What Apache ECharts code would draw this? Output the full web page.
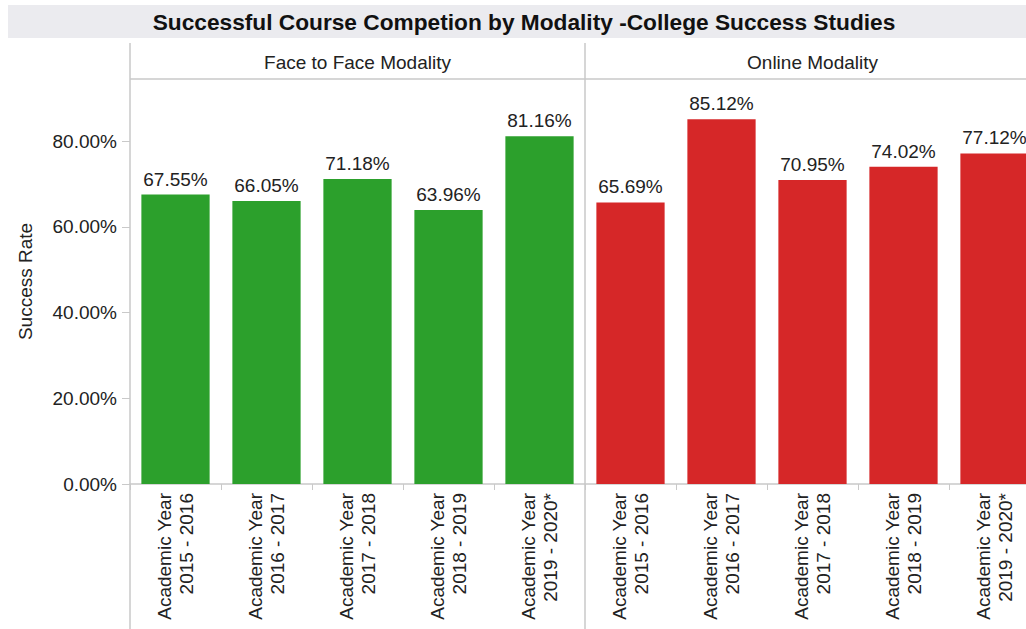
<!DOCTYPE html>
<html>
<head>
<meta charset="utf-8">
<script src="https://cdn.jsdelivr.net/npm/echarts@6/dist/echarts.min.js"></script>
<style>
html,body{margin:0;padding:0;background:#fff;overflow:hidden;width:1026px;height:629px;}
#chart{width:1041px;height:629px;}
</style>
</head>
<body>
<div id="chart"></div>
<script>
var categories = [
  "Academic Year\n2015 - 2016",
  "Academic Year\n2016 - 2017",
  "Academic Year\n2017 - 2018",
  "Academic Year\n2018 - 2019",
  "Academic Year\n2019 - 2020*"
];
var faceToFace = [67.55, 66.05, 71.18, 63.96, 81.16];
var online = [65.69, 85.12, 70.95, 74.02, 77.12];
var yTicks = [0, 20, 40, 60, 80];
var panelNames = ["Face to Face Modality", "Online Modality"];
var chartTitle = "Successful Course Competion by Modality -College Success Studies";
var yAxisName = "Success Rate";

var FONT = '"Liberation Sans", Arial, Helvetica, sans-serif';
var LINE = '#c9c9c9';
var TXT = '#222';

function pct(v){ return Number(v).toFixed(2) + '%'; }

var chart = echarts.init(document.getElementById('chart'), null, {renderer: 'svg'});

function xAxisCfg(gi){
  return {
    type: 'category', gridIndex: gi, data: categories,
    axisLine: {show: true, lineStyle: {color: LINE, width: 1.5}},
    axisTick: {show: true, length: 6, lineStyle: {color: LINE}},
    axisLabel: {
      interval: 0, rotate: 90, margin: 9,
      fontFamily: FONT, fontSize: 19, lineHeight: 22, color: TXT
    }
  };
}
function yAxisCfg(gi, showLabels){
  return {
    type: 'value', gridIndex: gi, min: 0, max: 94.5,
    name: showLabels ? yAxisName : '',
    nameLocation: 'middle', nameGap: 95, nameRotate: 90,
    nameTextStyle: {fontFamily: FONT, fontSize: 19, color: TXT},
    axisLine: {show: false},
    splitLine: {show: false},
    axisTick: {show: showLabels, length: 8, customValues: yTicks, lineStyle: {color: LINE}},
    axisLabel: {
      show: showLabels, customValues: yTicks, margin: 13,
      formatter: pct, fontFamily: FONT, fontSize: 19, color: TXT
    }
  };
}
function seriesCfg(gi, data, color){
  return {
    type: 'bar', xAxisIndex: gi, yAxisIndex: gi, data: data,
    barCategoryGap: '25%',
    itemStyle: {color: color},
    label: {
      show: true, position: 'top', distance: 6,
      formatter: function(p){ return pct(p.value); },
      fontFamily: FONT, fontSize: 19, color: TXT
    },
    silent: true
  };
}

chart.setOption({
  animation: false,
  grid: [
    {left: 130, top: 79, width: 455, height: 405},
    {left: 585, top: 79, width: 455, height: 405}
  ],
  xAxis: [xAxisCfg(0), xAxisCfg(1)],
  yAxis: [yAxisCfg(0, true), yAxisCfg(1, false)],
  series: [
    seriesCfg(0, faceToFace, '#2ca02c'),
    seriesCfg(1, online, '#d62728')
  ],
  graphic: [
    {type: 'rect', shape: {x: 8, y: 5, width: 1040, height: 33}, style: {fill: '#ebebef'}, z: -1},
    {type: 'text', x: 524, y: 21.5, style: {text: chartTitle, fontFamily: FONT, fontWeight: 'bold', fontSize: 22.7, fill: '#111', align: 'center', verticalAlign: 'middle'}},
    {type: 'text', x: 357.5, y: 62, style: {text: panelNames[0], fontFamily: FONT, fontSize: 19, fill: TXT, align: 'center', verticalAlign: 'middle'}},
    {type: 'text', x: 812.5, y: 62, style: {text: panelNames[1], fontFamily: FONT, fontSize: 19, fill: TXT, align: 'center', verticalAlign: 'middle'}},
    {type: 'line', shape: {x1: 130, y1: 79, x2: 1041, y2: 79}, style: {stroke: LINE, lineWidth: 1.5}},
    {type: 'line', shape: {x1: 130, y1: 43, x2: 130, y2: 629}, style: {stroke: LINE, lineWidth: 1.5}},
    {type: 'line', shape: {x1: 585, y1: 43, x2: 585, y2: 629}, style: {stroke: LINE, lineWidth: 1.5}}
  ]
});
</script>
</body>
</html>
